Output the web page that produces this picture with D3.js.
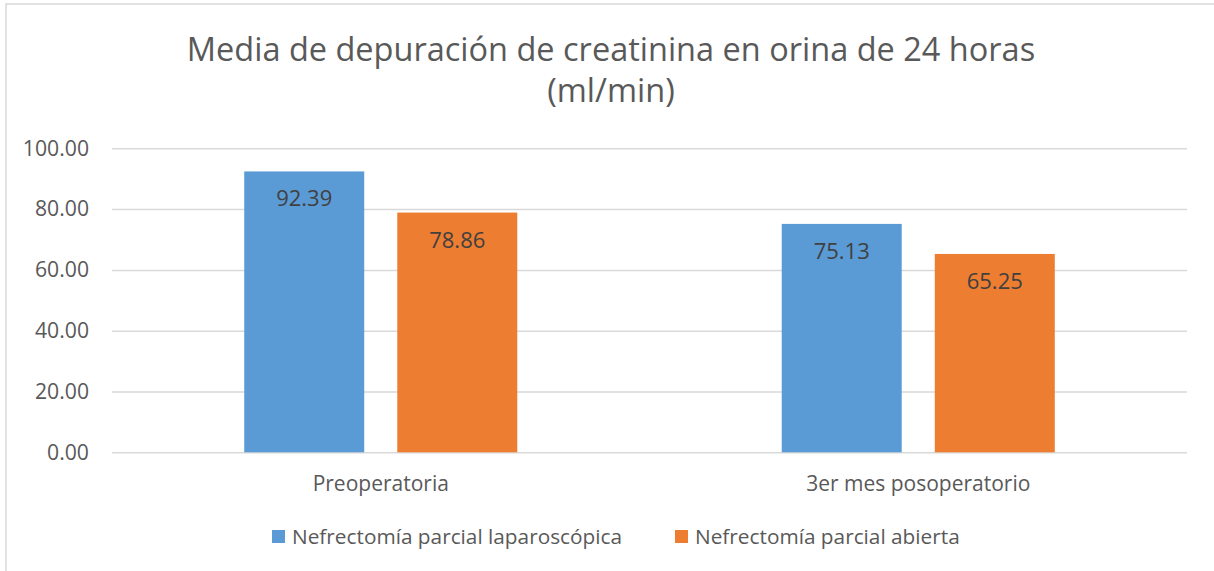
<!DOCTYPE html>
<html>
<head>
<meta charset="utf-8">
<script src="https://cdn.jsdelivr.net/npm/d3@7"></script>
<style>
  html, body { margin: 0; padding: 0; background: #fff; }
  svg { display: block; font-family: "Open Sans", Lato, sans-serif; }
</style>
</head>
<body>
<svg id="chart" width="1214" height="571"></svg>
<script>
// ---- data ----
const titleLines = ["Media de depuración de creatinina en orina de 24 horas", "(ml/min)"];
const categories = ["Preoperatoria", "3er mes posoperatorio"];
const seriesNames = ["Nefrectomía parcial laparoscópica", "Nefrectomía parcial abierta"];
const laparoscopica = [92.39, 75.13];
const abierta = [78.86, 65.25];
const yTicks = [0, 20, 40, 60, 80, 100];
const colors = ["#5B9BD5", "#ED7D31"];

const seriesValues = [laparoscopica, abierta];
const rows = categories.map((c, i) => ({
  category: c,
  values: seriesNames.map((s, j) => ({ series: s, value: seriesValues[j][i], color: colors[j] }))
}));

const FONT = "'Open Sans', Lato, sans-serif";
const svg = d3.select("#chart");
const W = 1214, H = 571;
const plot = { left: 112, right: 1187, top: 148.3, bottom: 452.3 };

// chart border (left & top visible)
svg.append("rect")
  .attr("x", 6).attr("y", 4)
  .attr("width", W + 10).attr("height", H + 10)
  .attr("fill", "none").attr("stroke", "#d9d9d9").attr("stroke-width", 1.5);

// title
svg.append("g").selectAll("text").data(titleLines).join("text")
  .attr("x", 611)
  .attr("y", (d, i) => 61 + i * 41)
  .attr("text-anchor", "middle")
  .attr("fill", "#595959")
  .attr("font-size", 32.5)
  .text(d => d);

// scales
const y = d3.scaleLinear().domain([0, 100]).range([plot.bottom, plot.top]);
const x0 = d3.scaleBand().domain(categories).range([plot.left, plot.right])
  .paddingInner(0.492).paddingOuter(0.246);
const x1 = d3.scaleBand().domain(seriesNames).range([0, x0.bandwidth()])
  .paddingInner(0.216).paddingOuter(0);

// y axis with gridlines
const yAxis = svg.append("g")
  .attr("transform", `translate(${plot.left},0)`)
  .call(d3.axisLeft(y).tickValues(yTicks).tickFormat(d3.format(".2f"))
    .tickSize(-(plot.right - plot.left)).tickPadding(23));
yAxis.select(".domain").remove();
yAxis.selectAll(".tick line").attr("stroke", "#d9d9d9").attr("stroke-width", 1.5);
yAxis.selectAll(".tick text").attr("fill", "#595959").attr("font-size", 21.2)
  .attr("font-family", FONT);

// bars
const groups = svg.append("g").selectAll("g").data(rows).join("g")
  .attr("transform", d => `translate(${x0(d.category)},0)`);
groups.selectAll("rect").data(d => d.values).join("rect")
  .attr("x", d => x1(d.series))
  .attr("y", d => y(d.value))
  .attr("width", x1.bandwidth())
  .attr("height", d => y(0) - y(d.value))
  .attr("fill", d => d.color);
groups.selectAll("text").data(d => d.values).join("text")
  .attr("x", d => x1(d.series) + x1.bandwidth() / 2)
  .attr("y", d => y(d.value) + 35)
  .attr("text-anchor", "middle")
  .attr("fill", "#404040")
  .attr("font-size", 22)
  .text(d => d3.format(".2f")(d.value));

// x axis labels
const xAxis = svg.append("g")
  .attr("transform", `translate(0,${plot.bottom})`)
  .call(d3.axisBottom(x0).tickSize(0).tickPadding(24));
xAxis.select(".domain").remove();
xAxis.selectAll(".tick text").attr("fill", "#595959").attr("font-size", 21)
  .attr("font-family", FONT);

// legend
const legendX = [272, 675];
const legend = svg.append("g").selectAll("g").data(seriesNames).join("g")
  .attr("transform", (d, i) => `translate(${legendX[i]},530)`);
legend.append("rect").attr("width", 13).attr("height", 13)
  .attr("fill", (d, i) => colors[i]);
legend.append("text").attr("x", 20).attr("y", 13.5)
  .attr("fill", "#595959").attr("font-size", 20.8)
  .text(d => d);
</script>
</body>
</html>
